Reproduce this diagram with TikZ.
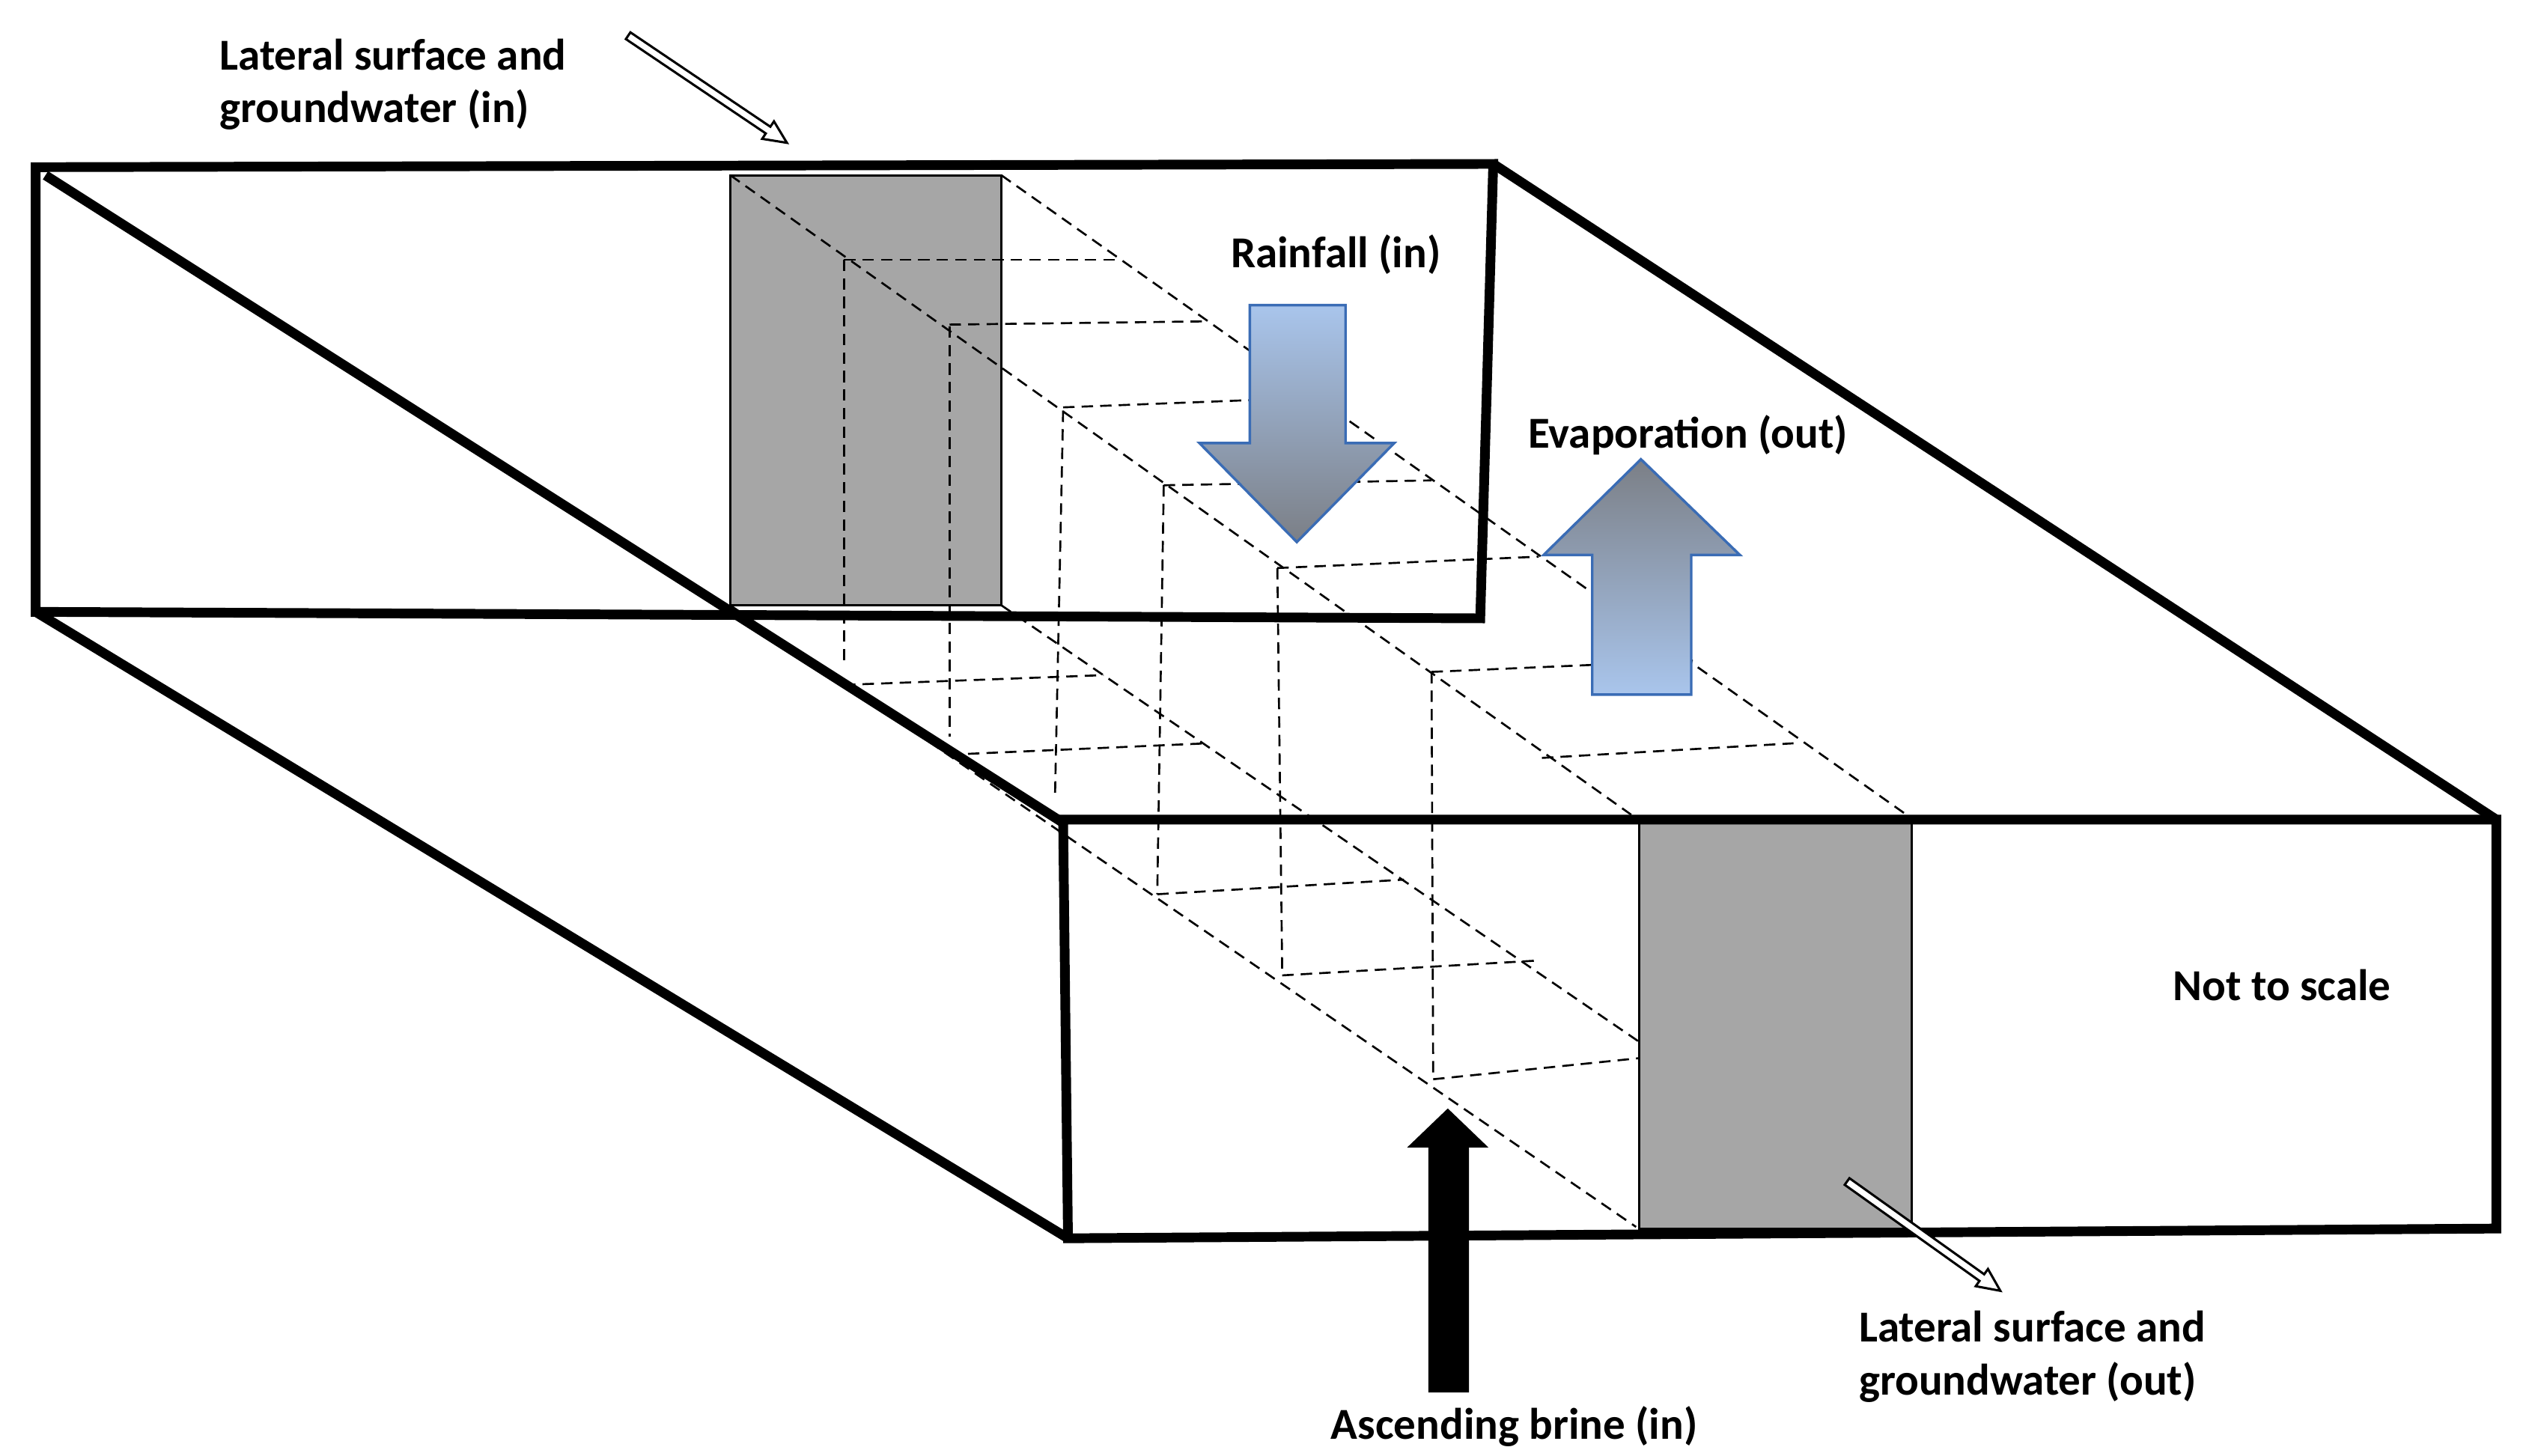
\documentclass[tikz,border=0pt]{standalone}
\usepackage{fontspec}
\setmainfont{Carlito}
\usetikzlibrary{positioning}
\definecolor{stripgrey}{HTML}{A6A6A6}
\definecolor{lightblue}{HTML}{A9C5EC}
\definecolor{arrowgrey}{HTML}{7B7F86}
\definecolor{arrowline}{HTML}{3A6CB5}
\begin{document}
\begin{tikzpicture}[x=0.02cm, y=-0.02cm,
    edge/.style={line width=3.4pt, line join=miter},
    grid/.style={dashed, line width=0.7pt, dash pattern=on 4pt off 2.5pt},
    strip/.style={fill=stripgrey, draw=black, line width=0.8pt},
    label/.style={font=\fontsize{15.5}{18.5}\selectfont\bfseries, align=left, inner sep=0pt},
    flowdown/.style={draw=arrowline, line width=0.9pt, top color=lightblue, bottom color=arrowgrey},
    flowup/.style={draw=arrowline, line width=0.9pt, top color=arrowgrey, bottom color=lightblue},
    hollow/.style={fill=white, draw=black, line width=0.8pt}]
    \useasboundingbox (0,0) rectangle (1560,897);

    % grey strips
    \draw[strip] (450,108) rectangle (617,373);

    % dashed column edges
    \draw[grid] (450,108) -- (1005,502);
    \draw[grid] (617,108) -- (1176,503);
    \draw[grid] (450,373) -- (1008,756);
    \draw[grid] (617,373) -- (1010,642);

    % dashed slices
    \draw[grid] (520,160) -- (520,410);
    \draw[grid] (585,201) -- (585,454);
    \draw[grid] (655,253) -- (650,491);
    \draw[grid] (717,299) -- (713,551);
    \draw[grid] (787,350) -- (790,601);
    \draw[grid] (882,414) -- (883,665);
    \draw[grid] (520,160) -- (690,160);
    \draw[grid] (585,200) -- (744,198);
    \draw[grid] (655,251) -- (810,245);
    \draw[grid] (717,299) -- (882,296);
    \draw[grid] (787,350) -- (948,343);
    \draw[grid] (882,414) -- (1043,407);
    \draw[grid] (520,422) -- (680,416);
    \draw[grid] (585,465) -- (744,458);
    \draw[grid] (713,551) -- (865,542);
    \draw[grid] (790,601) -- (945,592);
    \draw[grid] (883,665) -- (1010,652);
    \draw[grid] (950,467) -- (1105,458);

    \draw[strip] (1010,505) rectangle (1178,757);

    % box edges
    \draw[edge] (22,103) -- (920,101) -- (912,381) -- (22,377) -- cycle;
    \draw[edge] (28,108) -- (655,507);
    \draw[edge] (920,101) -- (1538,505);
    \draw[edge] (655,505) -- (1538,505) -- (1538,757) -- (658,763) -- cycle;
    \draw[edge] (22,377) -- (658,763);

    % flux arrows
    \path[flowdown] (770,188) -- (829,188) -- (829,273) -- (859,273) -- (799,334)
        -- (739,273) -- (770,273) -- cycle;
    \path[flowup] (1011,283) -- (1072,342) -- (1042,342) -- (1042,428) -- (981,428)
        -- (981,342) -- (951,342) -- cycle;
    \fill[black] (880,858) -- (880,707) -- (867,707) -- (892,683) -- (917,707)
        -- (905,707) -- (905,858) -- cycle;
    \begin{scope}[shift={(387,22)}, rotate=-34]
        \path[hollow] (0,-2.5) -- (104,-2.5) -- (104,-6.5) -- (118,0) -- (104,6.5)
            -- (104,2.5) -- (0,2.5) -- cycle;
    \end{scope}
    \begin{scope}[shift={(1138,728)}, rotate=-35.5]
        \path[hollow] (0,-2.5) -- (102,-2.5) -- (102,-6.5) -- (116,0) -- (102,6.5)
            -- (102,2.5) -- (0,2.5) -- cycle;
    \end{scope}

    % labels
    \node[label, anchor=west] (latin) at (135,52) {Lateral surface and\\groundwater (in)};
    \node[label] (rain) at (823,157) {Rainfall (in)};
    \node[label] (evap) at (1040,268) {Evaporation (out)};
    \node[label] (scale) at (1406,607) {Not to scale};
    \node[label, anchor=west] (latout) at (1145,836) {Lateral surface and\\groundwater (out)};
    \node[label] (brine) at (933,879) {Ascending brine (in)};
\end{tikzpicture}
\end{document}
